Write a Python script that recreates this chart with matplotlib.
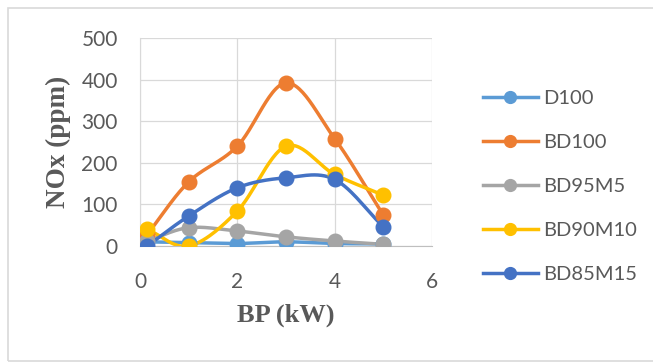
import numpy as np
import matplotlib
matplotlib.use("Agg")
import matplotlib.pyplot as plt
from matplotlib.patches import Rectangle

bp = [0.15, 1, 2, 3, 4, 5]
series_names = ["D100", "BD100", "BD95M5", "BD90M10", "BD85M15"]
d100 = [10, 8, 6, 10, 6, 5]
bd100 = [28, 154, 240, 392, 258, 74]
bd95m5 = [12, 44, 36, 22, 12, 4]
bd90m10 = [40, 0, 84, 240, 172, 122]
bd85m15 = [0, 72, 140, 164, 160, 46]
colors = ["#5B9BD5", "#ED7D31", "#A5A5A5", "#FFC000", "#4472C4"]
xticks = [0, 2, 4, 6]
yticks = [0, 100, 200, 300, 400, 500]


def smooth(x, y, n=30):
    # Catmull-Rom style smoothing similar to Excel's smoothed line
    x = np.asarray(x, float)
    y = np.asarray(y, float)
    px = np.concatenate([[2 * x[0] - x[1]], x, [2 * x[-1] - x[-2]]])
    py = np.concatenate([[2 * y[0] - y[1]], y, [2 * y[-1] - y[-2]]])
    xs, ys = [], []
    for i in range(1, len(px) - 2):
        t = np.linspace(0, 1, n)
        t2, t3 = t * t, t * t * t
        for arr, out in ((px, xs), (py, ys)):
            p0, p1, p2, p3 = arr[i - 1], arr[i], arr[i + 1], arr[i + 2]
            out.append(0.5 * ((2 * p1) + (-p0 + p2) * t
                              + (2 * p0 - 5 * p1 + 4 * p2 - p3) * t2
                              + (-p0 + 3 * p1 - 3 * p2 + p3) * t3))
    return np.concatenate(xs), np.concatenate(ys)


fig = plt.figure(figsize=(6.53, 3.62), dpi=100)
fig.patches.append(Rectangle((8 / 653, 0.003), 1, 1 - 8 / 362 - 0.003,
                             transform=fig.transFigure, fill=False,
                             edgecolor="#D9D9D9", linewidth=1.2))
ax = fig.add_axes([140 / 653, 1 - 246 / 362, (432 - 140) / 653, (246 - 38) / 362])

all_series = [d100, bd100, bd95m5, bd90m10, bd85m15]
for name, vals, c in zip(series_names, all_series, colors):
    sx, sy = smooth(bp, vals)
    ax.plot(sx, sy, color=c, linewidth=2.5, solid_capstyle="round", zorder=2)
    ax.plot(bp, vals, "o", color=c, markersize=10.5, zorder=3)
    ax.plot([], [], "-o", color=c, linewidth=2.5, markersize=8.5, label=name)

ax.set_xlim(0, 6)
ax.set_ylim(0, 500)
ax.set_xticks(xticks)
ax.set_yticks(yticks)
ax.grid(True, color="#D9D9D9", linewidth=0.9)
ax.set_axisbelow(True)
for s in ["top", "right"]:
    ax.spines[s].set_visible(False)
ax.spines["left"].set_color("#D9D9D9")
ax.spines["bottom"].set_color("#BFBFBF")
ax.tick_params(length=0, labelsize=15, labelcolor="#595959")
ax.tick_params(axis="y", pad=16)
ax.tick_params(axis="x", pad=19)
for lab in ax.get_xticklabels() + ax.get_yticklabels():
    lab.set_fontfamily("Lato")

ax.set_xlabel("BP (kW)", fontfamily="Liberation Serif", fontweight="bold",
              fontsize=19, color="#595959")
ax.xaxis.set_label_coords(0.5, (246 - 315) / 208)
ax.xaxis.label.set_va("center")
ax.set_ylabel("NOx (ppm)", fontfamily="Liberation Serif", fontweight="bold",
              fontsize=19.5, color="#595959")
ax.yaxis.set_label_coords((58 - 140) / 292, 0.5)
ax.yaxis.label.set_va("center")

leg = fig.legend(loc="upper left", bbox_to_anchor=(465 / 653, 1 - 72 / 362),
                 frameon=False, labelspacing=1.33, handlelength=2.7,
                 prop={"family": "Lato", "size": 14.5}, labelcolor="#595959",
                 handletextpad=0.3)

fig.savefig("out.png", dpi=100, facecolor="white")
